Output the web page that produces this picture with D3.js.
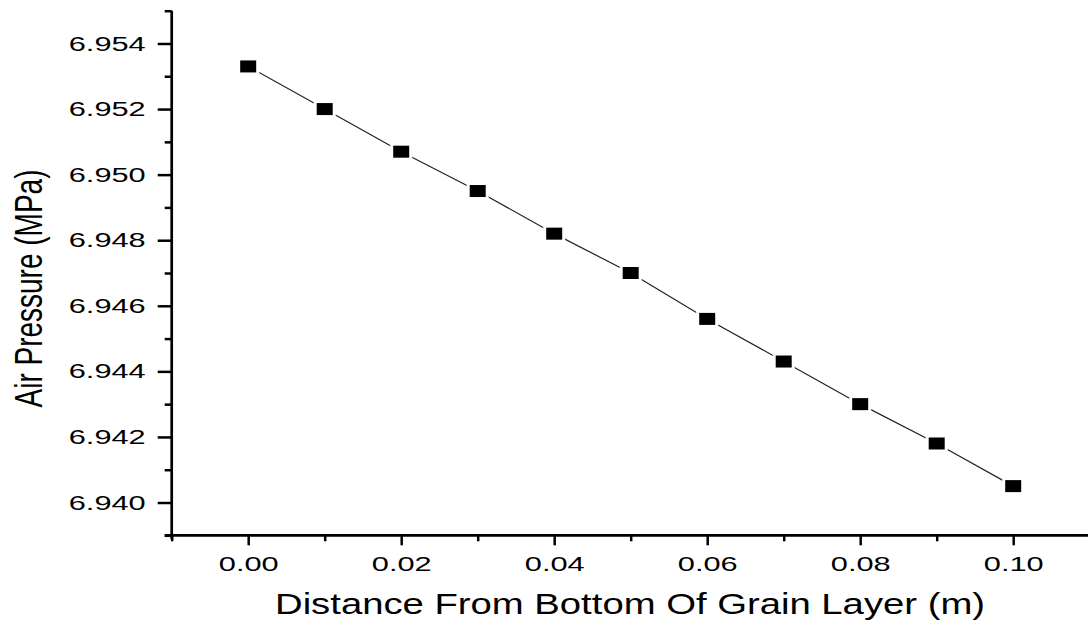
<!DOCTYPE html>
<html>
<head>
<meta charset="utf-8">
<script src="https://cdn.jsdelivr.net/npm/d3@7"></script>
<style>
  html, body { margin: 0; padding: 0; background: #fff; }
  svg { display: block; }
  text { font-family: "Liberation Sans", Arial, sans-serif; fill: #000; }
</style>
</head>
<body>
<svg id="chart" width="1088" height="623"></svg>
<script>
// Distance from the bottom of the grain layer (m)
const distance = [0.00, 0.01, 0.02, 0.03, 0.04, 0.05, 0.06, 0.07, 0.08, 0.09, 0.10];
// Air pressure at each distance (MPa)
const pressure = [6.9533, 6.9520, 6.9507, 6.9495, 6.9482, 6.9470, 6.9456, 6.9443, 6.9430, 6.9418, 6.9405];

const xMajorTicks = [0.00, 0.02, 0.04, 0.06, 0.08, 0.10];
const xMinorTicks = [-0.01, 0.01, 0.03, 0.05, 0.07, 0.09, 0.11];
const yMajorTicks = [6.940, 6.942, 6.944, 6.946, 6.948, 6.950, 6.952, 6.954];
const yMinorTicks = [6.939, 6.941, 6.943, 6.945, 6.947, 6.949, 6.951, 6.953, 6.955];

const xTitle = "Distance From Bottom Of Grain Layer (m)";
const yTitle = "Air Pressure (MPa)";

const svg = d3.select("#chart");

const plotLeft = 171.7, plotRight = 1089.7, plotTop = 10.7, plotBottom = 535.3;
const x = d3.scaleLinear().domain([-0.01, 0.11]).range([plotLeft, plotRight]);
const y = d3.scaleLinear().domain([6.939, 6.955]).range([plotBottom, plotTop]);

const stretch = 1.5;
const tickWidth = 2.5;

// ---- Y axis ----
const yAxisG = svg.append("g").attr("transform", `translate(${plotLeft},0)`);
yAxisG.call(d3.axisLeft(y).tickValues(yMajorTicks).tickSize(14)
  .tickFormat(d3.format(".3f")).tickSizeOuter(0));
yAxisG.call(g => g.select(".domain").remove());
yAxisG.selectAll(".tick line").attr("stroke", "#000").attr("stroke-width", tickWidth);
yAxisG.selectAll(".tick text")
  .attr("x", 0).attr("dy", "0.32em")
  .attr("font-size", 20.5)
  .attr("transform", `translate(-26,0) scale(${stretch},1)`);

const yMinorG = svg.append("g").attr("transform", `translate(${plotLeft},0)`);
yMinorG.call(d3.axisLeft(y).tickValues(yMinorTicks).tickSize(7).tickFormat("").tickSizeOuter(0));
yMinorG.call(g => g.select(".domain").remove());
yMinorG.selectAll(".tick line").attr("stroke", "#000").attr("stroke-width", tickWidth);

// ---- X axis ----
const xAxisG = svg.append("g").attr("transform", `translate(0,${plotBottom})`);
xAxisG.call(d3.axisBottom(x).tickValues(xMajorTicks).tickSize(10)
  .tickFormat(d3.format(".2f")).tickSizeOuter(0));
xAxisG.call(g => g.select(".domain").remove());
xAxisG.selectAll(".tick line").attr("stroke", "#000").attr("stroke-width", tickWidth);
xAxisG.selectAll(".tick text")
  .attr("y", 35.4).attr("dy", 0)
  .attr("font-size", 20.5)
  .attr("transform", `scale(${stretch},1)`);

const xMinorG = svg.append("g").attr("transform", `translate(0,${plotBottom})`);
xMinorG.call(d3.axisBottom(x).tickValues(xMinorTicks).tickSize(6).tickFormat("").tickSizeOuter(0));
xMinorG.call(g => g.select(".domain").remove());
xMinorG.selectAll(".tick line").attr("stroke", "#000").attr("stroke-width", tickWidth);

// Axis lines, crossing slightly at the origin corner
svg.append("line")
  .attr("x1", plotLeft).attr("x2", plotLeft)
  .attr("y1", plotTop).attr("y2", plotBottom + 4)
  .attr("stroke", "#000").attr("stroke-width", 2.7);
svg.append("line")
  .attr("x1", plotLeft - 7).attr("x2", 1088)
  .attr("y1", plotBottom).attr("y2", plotBottom)
  .attr("stroke", "#000").attr("stroke-width", 2.7);

// ---- Axis titles ----
svg.append("text")
  .attr("x", 630).attr("y", 614.3)
  .attr("text-anchor", "middle")
  .attr("font-size", 29)
  .attr("textLength", 710)
  .attr("lengthAdjust", "spacingAndGlyphs")
  .text(xTitle);

svg.append("text")
  .attr("transform", `translate(41.7,288.5) scale(1.4,1) rotate(-90)`)
  .attr("text-anchor", "middle")
  .attr("font-size", 28)
  .text(yTitle);

// ---- Data line and markers ----
const pts = distance.map((d, i) => ({ d, p: pressure[i] }));

svg.append("path")
  .datum(pts)
  .attr("fill", "none")
  .attr("stroke", "#222")
  .attr("stroke-width", 1.2)
  .attr("d", d3.line().x(v => x(v.d)).y(v => y(v.p)));

const mw = 16, mh = 12;
const marks = svg.append("g");
marks.selectAll("rect.halo")
  .data(pts).enter().append("rect")
  .attr("class", "halo")
  .attr("x", v => x(v.d) - mw / 2 - 3)
  .attr("y", v => y(v.p) - mh / 2 - 2)
  .attr("width", mw + 6).attr("height", mh + 4)
  .attr("fill", "#fff");
marks.selectAll("rect.pt")
  .data(pts).enter().append("rect")
  .attr("class", "pt")
  .attr("x", v => x(v.d) - mw / 2)
  .attr("y", v => y(v.p) - mh / 2)
  .attr("width", mw).attr("height", mh)
  .attr("fill", "#000");
</script>
</body>
</html>
